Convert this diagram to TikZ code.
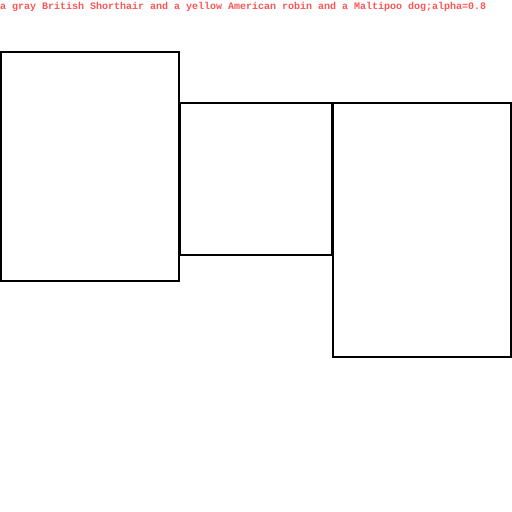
\documentclass[tikz,border=0pt]{standalone}
\usepackage{fontspec}
\setmonofont{Liberation Mono}
\definecolor{labelred}{RGB}{255,85,85}
\begin{document}
\begin{tikzpicture}[x=1pt,y=-1pt,
  box/.style={draw=black,line width=2pt,inner sep=0pt,outer sep=0pt,fill=none},
  caption/.style={text=labelred,font=\ttfamily\bfseries\fontsize{10}{12}\selectfont,inner sep=0pt,anchor=base west}]
\useasboundingbox (0,0) rectangle (512,512);
\node[caption] (cap) at (0,9) {a gray British Shorthair and a yellow American robin and a Maltipoo dog;alpha=0.8};
\node[box,minimum width=178pt,minimum height=229pt] (cat) at (90,166.5) {};
\node[box,minimum width=152pt,minimum height=152pt] (robin) at (256,179) {};
\node[box,minimum width=178pt,minimum height=254pt] (dog) at (422,230) {};
\end{tikzpicture}
\end{document}
